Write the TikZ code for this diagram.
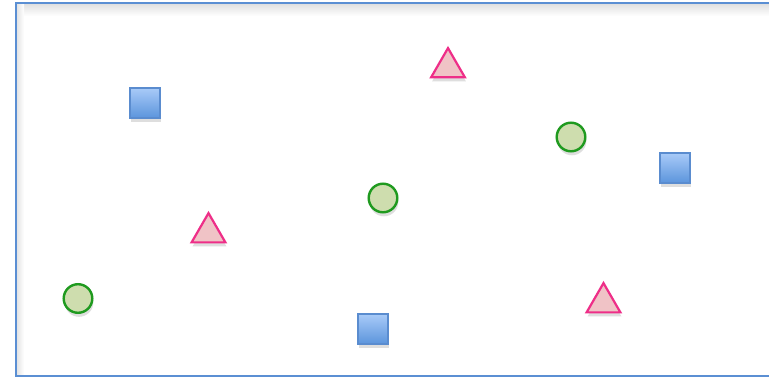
\documentclass[tikz,border=0pt]{standalone}
\usetikzlibrary{shapes.geometric,shadows}
\definecolor{frameblue}{HTML}{5B8FD3}
\definecolor{sqtop}{HTML}{A8CAF8}
\definecolor{sqbot}{HTML}{5C95DC}
\definecolor{sqline}{HTML}{5A8CCF}
\definecolor{circfill}{HTML}{CEDDAE}
\definecolor{circline}{HTML}{1F9A1F}
\definecolor{trifill}{HTML}{F0C3C6}
\definecolor{triline}{HTML}{EE2E88}
\tikzset{
  x=1pt, y=-1pt,
  shapeshadow/.style={drop shadow={shadow xshift=1pt, shadow yshift=-4pt, opacity=0.18, fill=black!70}},
  sq/.style={rectangle, minimum size=29.6pt, inner sep=0pt, draw=sqline, line width=2.4pt, top color=sqtop, bottom color=sqbot, shapeshadow},
  circ/.style={circle, minimum size=28.6pt, inner sep=0pt, draw=circline, line width=2.4pt, fill=circfill, shapeshadow},
  tri/.style={regular polygon, regular polygon sides=3, minimum size=39pt, inner sep=0pt, draw=triline, line width=2.2pt, fill=trifill, shapeshadow},
  frame/.style={draw=frameblue, line width=2.4pt}
}
\begin{document}
\begin{tikzpicture}
\useasboundingbox (0,0) rectangle (769,377);
\fill[white] (0,0) rectangle (769,377);
% inner shadow of frame
\shade[top color=black!12, bottom color=white] (17,4) rectangle (775,16);
\shade[left color=black!10, right color=white] (17,4) rectangle (24,375);
\draw[frame] (16,3) rectangle (775,376);
% squares
\node[sq] (s1) at (145,103) {};
\node[sq] (s2) at (675,168) {};
\node[sq] (s3) at (373,329) {};
% circles
\node[circ] (c1) at (571,137) {};
\node[circ] (c2) at (383,198) {};
\node[circ] (c3) at (78,298.5) {};
% triangles
\node[tri] (t1) at (448,67.6) {};
\node[tri] (t2) at (208.5,232.6) {};
\node[tri] (t3) at (603.5,302.6) {};
\end{tikzpicture}
\end{document}
